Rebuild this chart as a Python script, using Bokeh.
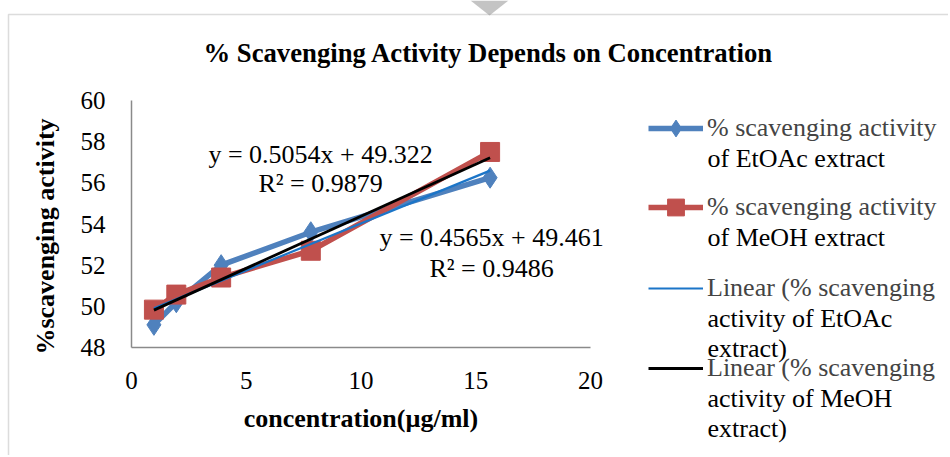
import numpy as np
from bokeh.plotting import figure
from bokeh.models import (Range1d, Legend, LegendItem, Label, FixedTicker, BoxAnnotation,
                          PolyAnnotation)
from bokeh.embed import file_html
from bokeh.resources import INLINE

# ---- data ----
concentration = [0.977, 1.953, 3.906, 7.8125, 15.625]
etoac_activity = [49.10, 50.20, 52.00, 53.60, 56.25]
meoh_activity = [49.84, 50.57, 51.40, 52.70, 57.50]

trend_slope = [0.4565, 0.5054]        # EtOAc, MeOH
trend_intercept = [49.461, 49.322]
trend_r2 = [0.9486, 0.9879]

x_ticks = [0, 5, 10, 15, 20]
y_ticks = [48, 50, 52, 54, 56, 58, 60]

title_text = "% Scavenging Activity Depends on Concentration"
x_title = "concentration(\u00b5g/ml)"
y_title = "%scavenging activity"
legend_lines = [
    ["% scavenging activity", "of EtOAc extract"],
    ["% scavenging activity", "of MeOH extract"],
    ["Linear (% scavenging", "activity of EtOAc", "extract)"],
    ["Linear (% scavenging", "activity of MeOH", "extract)"],
]

SERIF = "Liberation Serif"
BLUE = "#4F81BD"
RED = "#C0504D"
TREND_BLUE = "#1B75C8"
GREY = "#8a8a8a"

W, H = 948, 455
# frame covers the whole canvas; axes are pinned at x=0 / y=48
px_x = (590 - 131) / 20.0
px_y = (347 - 100) / 12.0
x0 = 0 - 131 / px_x
x1 = 20 + (W - 590) / px_x
y0 = 48 - (H - 347) / px_y
y1 = 60 + 100 / px_y

p = figure(width=W, height=H, output_backend="svg", toolbar_location=None,
           x_range=Range1d(x0, x1), y_range=Range1d(y0, y1), min_border=0)
p.outline_line_color = None
p.xgrid.grid_line_color = None
p.ygrid.grid_line_color = None
p.background_fill_color = "white"
p.border_fill_color = "white"

p.xaxis.fixed_location = 48
p.yaxis.fixed_location = 0
p.xaxis.bounds = (0, 20)
p.yaxis.bounds = (48, 60)

for ax in (p.xaxis[0], p.yaxis[0]):
    ax.axis_line_color = GREY
    ax.axis_line_width = 1.5
    ax.major_tick_line_color = None
    ax.minor_tick_line_color = None
    ax.major_label_text_font = SERIF
    ax.major_label_text_font_size = "25px"
    ax.major_label_text_color = "black"
    ax.axis_label_text_font = SERIF
    ax.axis_label_text_font_size = "26px"
    ax.axis_label_text_font_style = "bold"
    ax.axis_label_text_color = "black"

p.xaxis.ticker = FixedTicker(ticks=x_ticks)
p.yaxis.ticker = FixedTicker(ticks=y_ticks)
p.xaxis.axis_label = x_title
p.xaxis.major_label_standoff = 18
p.yaxis.major_label_standoff = 20
p.xaxis.axis_label_standoff = 12

# y-axis title (drawn as a rotated label so it can sit where the reference has it)
p.add_layout(Label(x=45, y=H - 236, x_units="screen", y_units="screen", text=y_title,
                   angle=np.pi / 2, text_align="center", text_baseline="middle",
                   text_font=SERIF, text_font_size="26px", text_font_style="bold",
                   text_color="black"))

# small grey page marker at the top and the outer chart border (left and top edges)
p.add_layout(PolyAnnotation(xs=[470, 508, 489], ys=[H, H, H - 15],
                            xs_units="screen", ys_units="screen",
                            fill_color="#c4c4c4", fill_alpha=1, line_color=None))
p.add_layout(BoxAnnotation(left=x0 + 8 / px_x, right=x1 + 50, top=y1 - 14 / px_y,
                           bottom=y0 - 50, fill_alpha=0, line_color=GREY,
                           line_width=1.5))

# series
l1 = p.line(concentration, etoac_activity, line_color=BLUE, line_width=5.5)
s1 = p.scatter(concentration, etoac_activity, marker="diamond", size=21,
               fill_color=BLUE, line_color=BLUE)
l2 = p.line(concentration, meoh_activity, line_color=RED, line_width=5.5)
s2 = p.scatter(concentration, meoh_activity, marker="square", size=19,
               fill_color=RED, line_color=RED)

# trend lines from the printed equations
xs = np.array([min(concentration), max(concentration)])
t1 = p.line(xs, trend_slope[0] * xs + trend_intercept[0], line_color=TREND_BLUE, line_width=2.2)
t2 = p.line(xs, trend_slope[1] * xs + trend_intercept[1], line_color="black", line_width=2.8)

# equation labels
eq_pos = [(15.69, 53.34, 51.83), (8.24, 57.37, 55.96)]
for i in range(2):
    x, y_eq, y_r2 = eq_pos[i]
    p.add_layout(Label(x=x, y=y_eq, text=f"y = {trend_slope[i]}x + {trend_intercept[i]}",
                       text_align="center", text_baseline="middle",
                       text_font=SERIF, text_font_size="26px", text_color="black"))
    p.add_layout(Label(x=x, y=y_r2, text=f"R\u00b2 = {trend_r2[i]}",
                       text_align="center", text_baseline="middle",
                       text_font=SERIF, text_font_size="26px", text_color="black"))

# title
p.add_layout(Label(x=488, y=H - 52, x_units="screen", y_units="screen", text=title_text,
                   text_align="center", text_baseline="middle",
                   text_font=SERIF, text_font_size="26.7px", text_font_style="bold",
                   text_color="black"))

# legend: one Legend per entry (glyph beside the first line), extra lines as labels
entry_renderers = [[l1, s1], [l2, s2], [t1], [t2]]
entry_top_y = [128, 207, 288, 368]
LINE_STEP = 30
GLYPH_H = 42
for i in range(4):
    cy = entry_top_y[i]
    lg = Legend(items=[LegendItem(label=legend_lines[i][0], renderers=entry_renderers[i])],
                location=(648, H - cy - GLYPH_H / 2), padding=0, margin=0, spacing=0,
                glyph_width=55, glyph_height=GLYPH_H, label_standoff=4,
                border_line_color=None, background_fill_alpha=0,
                label_text_font=SERIF, label_text_font_size="26px",
                label_text_baseline="middle")
    p.add_layout(lg, "center")
    for k, line in enumerate(legend_lines[i][1:], start=1):
        p.add_layout(Label(x=707, y=H - (cy + k * LINE_STEP), x_units="screen",
                           y_units="screen", text=line, text_align="left",
                           text_baseline="middle", text_font=SERIF,
                           text_font_size="26px", text_color="black"))

open("out.html", "w").write(file_html(p, INLINE))
